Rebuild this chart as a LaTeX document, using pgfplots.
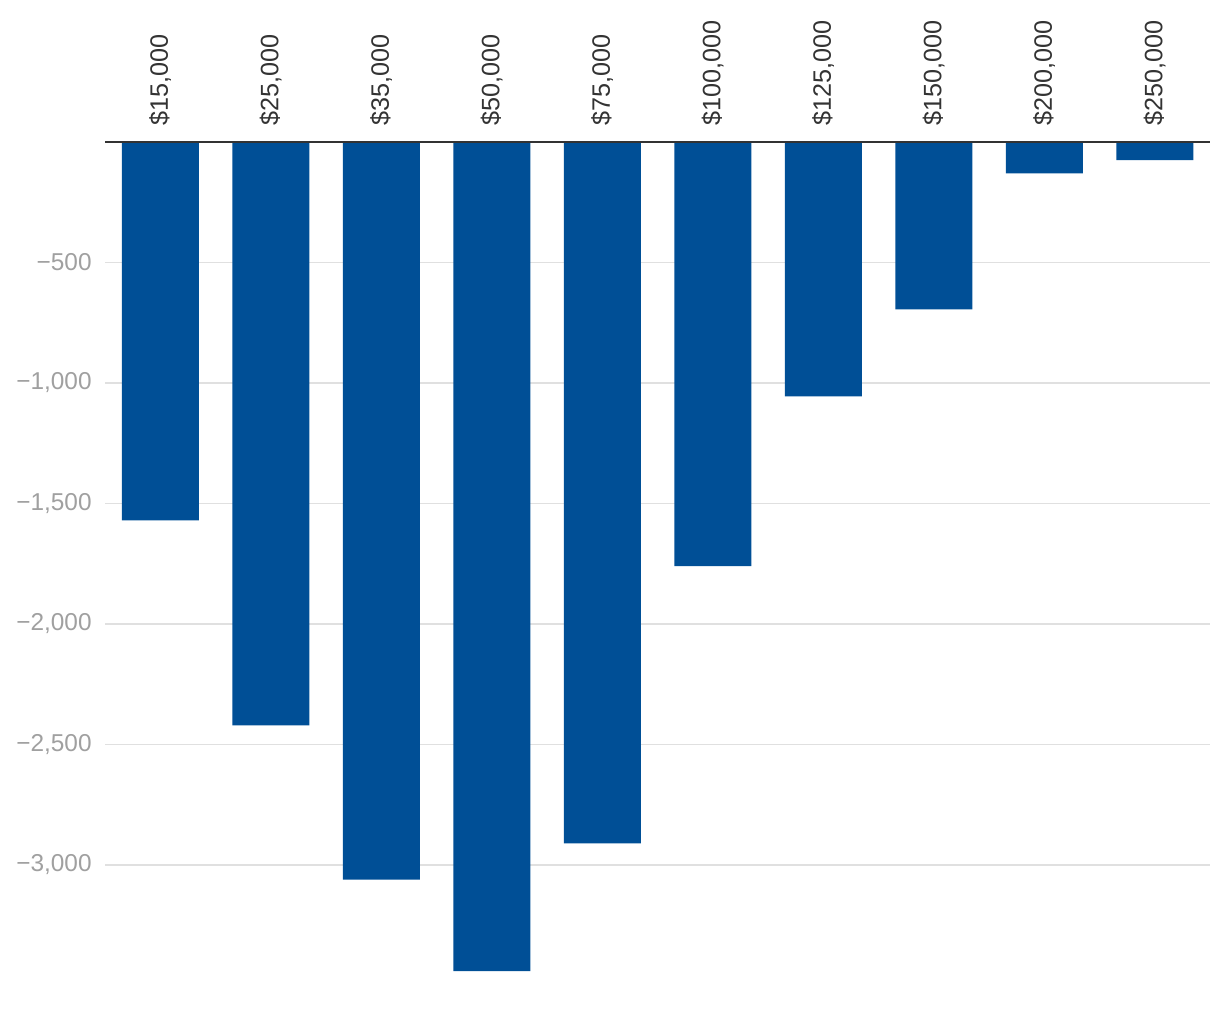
\documentclass[border=0pt]{standalone}
\usepackage{fontspec}
\setmainfont{Liberation Sans}
\usepackage{pgfplots}
\pgfplotsset{compat=1.18}
\definecolor{barblue}{HTML}{004F96}
\definecolor{gridgray}{HTML}{E0E0E0}
\definecolor{ylab}{HTML}{A0A0A0}
\definecolor{xlab}{HTML}{333333}
\begin{document}
\begin{tikzpicture}
\useasboundingbox (-52.5pt,71pt) rectangle (557.5pt,-439pt);
\begin{axis}[
 at={(0pt,0pt)}, anchor=north west,
 scale only axis, width=552.5pt, height=427.8pt,
 xmin=-0.5, xmax=9.5, ymin=-3550, ymax=0,
 axis line style={draw=none},
 xtick={0,...,9},
 xticklabels={{\$15,000},{\$25,000},{\$35,000},{\$50,000},{\$75,000},{\$100,000},{\$125,000},{\$150,000},{\$200,000},{\$250,000}},
 xticklabel pos=right,
 xticklabel shift=8pt,
 x tick label style={rotate=90, anchor=west, inner sep=0pt, font=\fontsize{12.6}{14}\selectfont, text=xlab},
 xtick style={draw=none}, ytick style={draw=none},
 major tick length=0pt,
 ytick={-3000,-2500,-2000,-1500,-1000,-500},
 yticklabels={{−3,000},{−2,500},{−2,000},{−1,500},{−1,000},{−500}},
 yticklabel shift=6.5pt,
 y tick label style={inner sep=0pt, font=\fontsize{12.2}{14}\selectfont, text=ylab},
 ymajorgrids, grid style={gridgray, line width=0.7pt},
 ybar, bar width=38.5pt,
 clip=false,
]
\addplot[fill=barblue, draw=none] coordinates {
 (0,-1570) (1,-2420) (2,-3060) (3,-3440) (4,-2910)
 (5,-1760) (6,-1055) (7,-695) (8,-130) (9,-75)};
\draw[xlab, line width=1pt] (axis cs:-0.5,0) -- (axis cs:9.5,0);
\end{axis}
\end{tikzpicture}
\end{document}
